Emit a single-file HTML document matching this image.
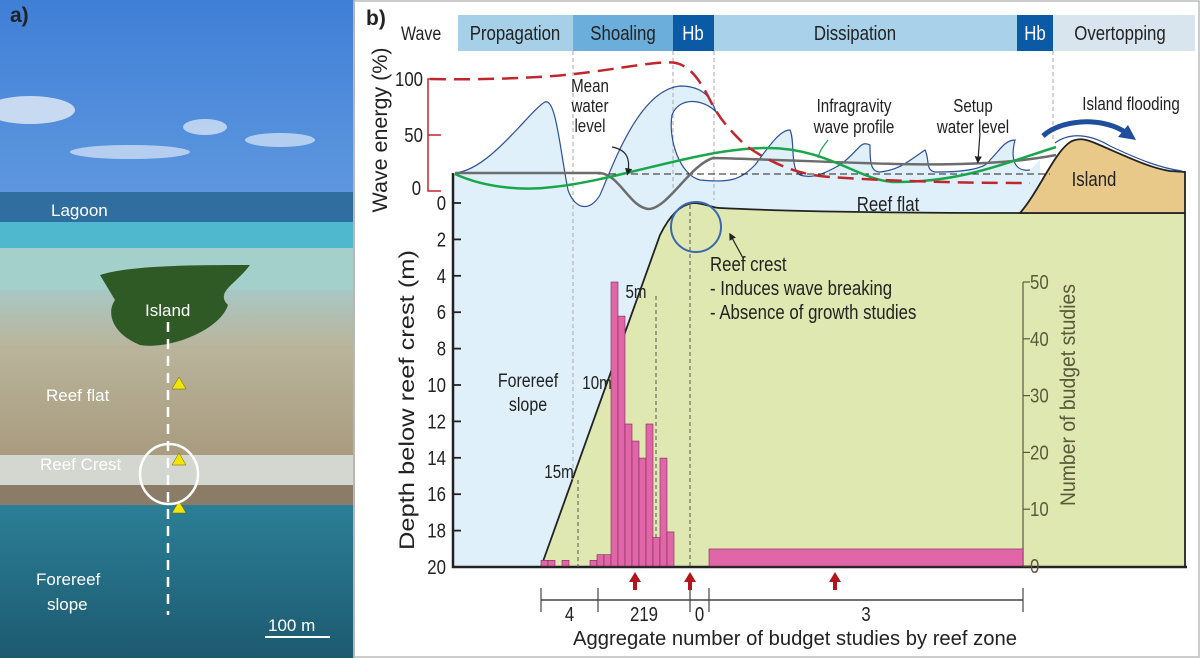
<!DOCTYPE html>
<html><head><meta charset="utf-8">
<style>
html,body{margin:0;padding:0;background:#fff;}
svg{display:block;}
text{font-family:"Liberation Sans",sans-serif;}
</style></head>
<body>
<svg id="fig" width="1200" height="658" viewBox="0 0 1200 658" xmlns="http://www.w3.org/2000/svg">
<defs>
<linearGradient id="sky" x1="0" y1="0" x2="0" y2="1">
<stop offset="0" stop-color="#3f7fd6"/><stop offset="0.6" stop-color="#7fb0e8"/><stop offset="1" stop-color="#a9cdee"/></linearGradient>
<linearGradient id="sea" x1="0" y1="0" x2="0" y2="1">
<stop offset="0" stop-color="#2b7f96"/><stop offset="1" stop-color="#1d5a70"/></linearGradient>
<linearGradient id="flat" x1="0" y1="0" x2="0" y2="1">
<stop offset="0" stop-color="#a9c7c4"/><stop offset="0.35" stop-color="#b9b49a"/><stop offset="1" stop-color="#a89a7e"/></linearGradient>
<marker id="arr" markerWidth="6" markerHeight="6" refX="3" refY="3" orient="auto"><path d="M0,0 L6,3 L0,6 z" fill="#222"/></marker>
</defs>

<g>
<rect x="0" y="0" width="353" height="658" fill="url(#sky)"/>
<ellipse cx="30" cy="110" rx="45" ry="14" fill="#e6eef8" opacity="0.8"/>
<ellipse cx="205" cy="127" rx="22" ry="8" fill="#e6eef8" opacity="0.7"/>
<ellipse cx="130" cy="152" rx="60" ry="7" fill="#dde8f6" opacity="0.7"/>
<ellipse cx="280" cy="140" rx="35" ry="7" fill="#dde8f6" opacity="0.7"/>
<rect x="0" y="192" width="353" height="33" fill="#2f6e9e"/>
<rect x="0" y="222" width="353" height="28" fill="#4fb8cf"/>
<rect x="0" y="248" width="353" height="50" fill="#a4d0cc"/>
<rect x="0" y="290" width="353" height="170" fill="url(#flat)"/>
<rect x="0" y="455" width="353" height="40" fill="#d4d6d0"/>
<rect x="0" y="485" width="353" height="25" fill="#8a7c66"/>
<rect x="0" y="505" width="353" height="153" fill="url(#sea)"/>
<path d="M100,275 C130,265 200,265 250,265 C235,285 215,292 228,305 C220,330 170,350 140,345 C115,335 105,315 115,300 Z" fill="#2f5a25"/>
<line x1="168" y1="322" x2="168" y2="615" stroke="#fff" stroke-width="2.5" stroke-dasharray="10,7"/>
<polygon points="179,377 172,389 186,389" fill="#f2e600" stroke="#6a6000" stroke-width="0.5"/>
<polygon points="179,453 172,465 186,465" fill="#f2e600" stroke="#6a6000" stroke-width="0.5"/>
<polygon points="179,501 172,513 186,513" fill="#f2e600" stroke="#6a6000" stroke-width="0.5"/>
<ellipse cx="169" cy="474" rx="29" ry="30" fill="none" stroke="#fff" stroke-width="2.5"/>
<line x1="265" y1="637" x2="330" y2="637" stroke="#fff" stroke-width="2"/>
<text x="10" y="22" font-size="21" font-weight="bold" fill="#222">a)</text>
<g fill="#fff" font-size="17">
<text x="51" y="216">Lagoon</text>
<text x="145" y="316">Island</text>
<text x="46" y="401">Reef flat</text>
<text x="40" y="470">Reef Crest</text>
<text x="36" y="585">Forereef</text>
<text x="47" y="610">slope</text>
<text x="268" y="631">100 m</text>
</g>
</g>
<line x1="354" y1="0" x2="354" y2="658" stroke="#555" stroke-width="1.5"/>
<rect x="354" y="1" width="845" height="656" fill="none" stroke="#bbb" stroke-width="1.5"/>

<text x="366" y="25" font-size="21" font-weight="bold" fill="#222">b)</text>
<text class="n" x="401" y="40" font-size="19" fill="#222">Wave</text>
<g>
<rect x="458" y="15" width="115" height="36" fill="#a6cfe8"/>
<rect x="573" y="15" width="100" height="36" fill="#6baedb"/>
<rect x="673" y="15" width="41" height="36" fill="#0b5aa5"/>
<rect x="714" y="15" width="303" height="36" fill="#a9d1ea"/>
<rect x="1017" y="15" width="36" height="36" fill="#0b5aa5"/>
<rect x="1053" y="15" width="142" height="36" fill="#d8e5ee"/>
<g font-size="20" text-anchor="middle" fill="#222">
<text class="n" x="515" y="40">Propagation</text>
<text class="n" x="623" y="40">Shoaling</text>
<text class="n" x="693" y="40" fill="#fff">Hb</text>
<text class="n" x="855" y="40">Dissipation</text>
<text class="n" x="1035" y="40" fill="#fff">Hb</text>
<text class="n" x="1120" y="40">Overtopping</text>
</g>
</g>

<path d="M453,173 C490,170 530,110 545,102 C556,98 560,150 568,190 C575,210 590,212 600,195 C615,160 640,90 680,86 C705,86 712,100 716,112 C705,100 680,95 672,115 C668,140 680,175 700,180 C730,183 740,180 755,165 C770,145 780,130 790,130 C795,140 790,170 800,175 C815,180 830,170 840,165 C860,150 860,140 870,145 C870,160 870,172 880,172 C900,170 910,160 925,150 C930,160 925,170 935,172 C960,172 985,170 990,160 C1000,150 1005,140 1015,140 C1010,160 1015,172 1030,170 L1040,160 L1040,567 L453,567 Z" fill="#dff0fa"/>
<path d="M541,567 L660,235 C670,215 680,205 693,203 C705,203 712,208 720,208 C800,212 900,213 1020,213 L1185,213 L1185,567 Z" fill="#e0e8b1" stroke="#222" stroke-width="1.8"/>
<path d="M1020,213 C1040,190 1055,150 1072,141 C1080,138 1085,139 1095,143 C1130,158 1150,168 1170,171 L1185,172 L1185,213 Z" fill="#e8c98a" stroke="#222" stroke-width="1.8"/>
<path d="M1055,143 C1070,132 1090,134 1110,146 C1140,160 1160,168 1182,171" fill="none" stroke="#2c4f9c" stroke-width="1.2"/>
<path d="M453,173 L453,567 L1187,567" fill="none" stroke="#222" stroke-width="2.5"/>

<g stroke-dasharray="4,3" fill="none">
<line x1="573" y1="51" x2="573" y2="480" stroke="#aaa" stroke-width="1"/>
<line x1="578" y1="480" x2="578" y2="567" stroke="#555" stroke-width="1"/>
<line x1="656" y1="296" x2="656" y2="567" stroke="#555" stroke-width="1"/>
<line x1="673" y1="51" x2="673" y2="190" stroke="#aaa" stroke-width="1"/>
<line x1="690" y1="205" x2="690" y2="567" stroke="#555" stroke-width="1"/>
<line x1="714" y1="51" x2="714" y2="200" stroke="#aaa" stroke-width="1"/>
<line x1="1053" y1="51" x2="1053" y2="140" stroke="#aaa" stroke-width="1"/>
</g>

<path d="M455,173 C490,170 530,110 545,102 C556,98 560,150 568,190 C575,210 590,212 600,195 C615,160 640,90 680,86 C705,86 712,100 716,112 C705,100 680,95 672,115 C668,140 680,175 700,180 C730,183 740,180 755,165 C770,145 780,130 790,130 C795,140 790,170 800,175 C815,180 830,170 840,165 C860,150 860,140 870,145 C870,160 870,172 880,172 C900,170 910,160 925,150 C930,160 925,170 935,172 C960,172 985,170 990,160 C1000,150 1005,140 1015,140 C1010,160 1015,172 1030,170" fill="none" stroke="#2c4f9c" stroke-width="1.2"/>
<line x1="598" y1="174" x2="1050" y2="174" stroke="#222" stroke-width="1" stroke-dasharray="7,4"/>
<path d="M455,173 L600,173 C620,175 630,208 649,209 C668,208 690,165 713,158 C800,160 900,166 960,164 C1000,163 1030,160 1056,155" fill="none" stroke="#6d6d6d" stroke-width="2.5"/>
<path d="M455,174 C490,190 530,190 553,187 C620,180 700,148 767,148 C830,148 860,182 896,182 C960,182 1000,165 1056,147" fill="none" stroke="#1aa64a" stroke-width="2.5"/>
<path d="M430,79 C480,80 540,78 574,74 C620,69 660,60 676,63 C690,66 700,80 710,100 C720,120 730,130 745,145 C780,170 810,176 831,177 C900,182 980,183 1030,183" fill="none" stroke="#c0272d" stroke-width="2.5" stroke-dasharray="16,8"/>
<circle cx="696" cy="227" r="25" fill="none" stroke="#3a67b0" stroke-width="2"/>
<path d="M1043,136 C1060,120 1100,116 1125,132" fill="none" stroke="#1f4e9c" stroke-width="5"/>
<polygon points="1136,140 1118,137 1128,125" fill="#1f4e9c"/>
<path d="M612,147 C628,150 630,160 628,172" fill="none" stroke="#222" stroke-width="1.2" marker-end="url(#arr)"/>
<path d="M980,133 L978,160" fill="none" stroke="#222" stroke-width="1.2" marker-end="url(#arr)"/>
<path d="M828,140 C822,148 820,150 818,158" fill="none" stroke="#1aa64a" stroke-width="1.2"/>
<path d="M743,258 L731,236" fill="none" stroke="#222" stroke-width="1.2" marker-end="url(#arr)"/>

<g font-size="18" fill="#222" text-anchor="middle">
<text class="n" x="590" y="92">Mean</text>
<text class="n" x="590" y="112">water</text>
<text class="n" x="590" y="132">level</text>
<text class="n" x="854" y="112">Infragravity</text>
<text class="n" x="854" y="133">wave profile</text>
<text class="n" x="973" y="112">Setup</text>
<text class="n" x="973" y="133">water level</text>
<text class="n" x="1131" y="110">Island flooding</text>
<text class="n" x="1094" y="186" font-size="20">Island</text>
<text class="n" x="888" y="211" font-size="20">Reef flat</text>
<text class="n" x="528" y="387" font-size="19">Forereef</text>
<text class="n" x="528" y="411" font-size="19">slope</text>
<text class="n" x="636" y="298">5m</text>
<text class="n" x="597" y="389">10m</text>
<text class="n" x="559" y="478">15m</text>
</g>
<g font-size="20" fill="#222">
<text class="n" x="710" y="271">Reef crest</text>
<text class="n" x="710" y="295">- Induces wave breaking</text>
<text class="n" x="710" y="319">- Absence of growth studies</text>
</g>

<g>
<path d="M441,79 L428,79 L428,191 L441,191 M428,135 L441,135" fill="none" stroke="#c0272d" stroke-width="1.5"/>
<g font-size="20" fill="#222" text-anchor="end">
<text class="n" x="423" y="86">100</text><text class="n" x="423" y="142">50</text><text class="n" x="421" y="195">0</text>
</g>
<text transform="translate(387,130) rotate(-90)" font-size="21" text-anchor="middle" fill="#222" textLength="165" lengthAdjust="spacingAndGlyphs">Wave energy (%)</text>
</g>
<text transform="translate(414,400) rotate(-90)" font-size="21" text-anchor="middle" fill="#222" textLength="300" lengthAdjust="spacingAndGlyphs">Depth below reef crest (m)</text>
<g id="depthAxis"></g>
<g id="countAxis"></g>
<text transform="translate(1075,395) rotate(-90)" font-size="21" text-anchor="middle" fill="#5a5a3a" textLength="222" lengthAdjust="spacingAndGlyphs">Number of budget studies</text>
<g id="bars"></g>
<g id="zones"></g>
<text x="795" y="645" font-size="20" text-anchor="middle" fill="#222" textLength="444" lengthAdjust="spacingAndGlyphs">Aggregate number of budget studies by reef zone</text>
</svg>
<script>
const depthTicks = [0,2,4,6,8,10,12,14,16,18,20];
const countTicks = [0,10,20,30,40,50];
const histCounts = [1,1,0,1,0,0,0,1,2,2,50,44,25,22,19,25,5,19,6];
const reefFlatCount = [3];
const zoneBounds = [541,598,690,709,1023];
const zoneTotals = ["4","219","0","3"];

const NS="http://www.w3.org/2000/svg";
function mk(tag,attrs,parent){const e=document.createElementNS(NS,tag);for(const k in attrs)e.setAttribute(k,attrs[k]);parent.appendChild(e);return e;}
function yDepth(d){return 203+d*(567-203)/20;}
function yCount(c){return 566-c*(566-282)/50;}
const binX0=541, binW=7;
function xBin(i){return binX0+i*binW;}

const da=document.getElementById('depthAxis');
depthTicks.forEach(d=>{
  const t=mk('line',{x1:453,x2:461,y1:yDepth(d),y2:yDepth(d),stroke:'#222','stroke-width':1.8},da);
  
  
  const l=mk('text',{x:446,y:yDepth(d)+7,'font-size':20,'text-anchor':'end',fill:'#222',class:'n'},da);
  l.textContent=d;
  
  
});
const ca=document.getElementById('countAxis');
mk('line',{x1:1023,x2:1023,y1:yCount(50),y2:yCount(0),stroke:'#5a5a3a','stroke-width':1.2},ca);
countTicks.forEach(c=>{
  const t=mk('line',{x1:1023,x2:1030,y1:yCount(c),y2:yCount(c),stroke:'#5a5a3a','stroke-width':1.2},ca);
  
  
  const l=mk('text',{x:1030,y:yCount(c)+7,'font-size':20,fill:'#5a5a3a',class:'n'},ca);
  l.textContent=c;
  
  
});
const bg=document.getElementById('bars');
histCounts.forEach((c,i)=>{
  if(c<=0)return;
  const r=mk('rect',{x:xBin(i),y:yCount(c),width:binW,height:yCount(0)-yCount(c),fill:'#e166a8',stroke:'#7a2a55','stroke-width':0.6},bg);
  
  
});
const rf=mk('rect',{x:709,y:yCount(reefFlatCount[0]),width:1023-709,height:yCount(0)-yCount(reefFlatCount[0]),fill:'#e166a8',stroke:'#7a2a55','stroke-width':0.6},bg);



const zg=document.getElementById('zones');
mk('line',{x1:zoneBounds[0],x2:zoneBounds[zoneBounds.length-1],y1:600,y2:600,stroke:'#444','stroke-width':1.5},zg);
zoneBounds.forEach(x=>{
  const t=mk('line',{x1:x,x2:x,y1:588,y2:612,stroke:'#444','stroke-width':1.2},zg);
  
  
});
zoneTotals.forEach((v,i)=>{
  const cx=(zoneBounds[i]+zoneBounds[i+1])/2;
  const l=mk('text',{x:cx,y:621,'font-size':20,'text-anchor':'middle',fill:'#222',class:'n'},zg);
  l.textContent=v;
  
  
});
[635,690,835].forEach(x=>{
  const a=mk('path',{d:`M${x-6},582 L${x},572 L${x+6},582 L${x+2},582 L${x+2},590 L${x-2},590 L${x-2},582 Z`,fill:'#b3151c'},zg);
  
  
});
document.querySelectorAll('text.n').forEach(t=>{
  const w=t.getComputedTextLength();
  if(w>0){t.setAttribute('textLength',(w*0.84).toFixed(1));t.setAttribute('lengthAdjust','spacingAndGlyphs');}
});
</script>
</body></html>
